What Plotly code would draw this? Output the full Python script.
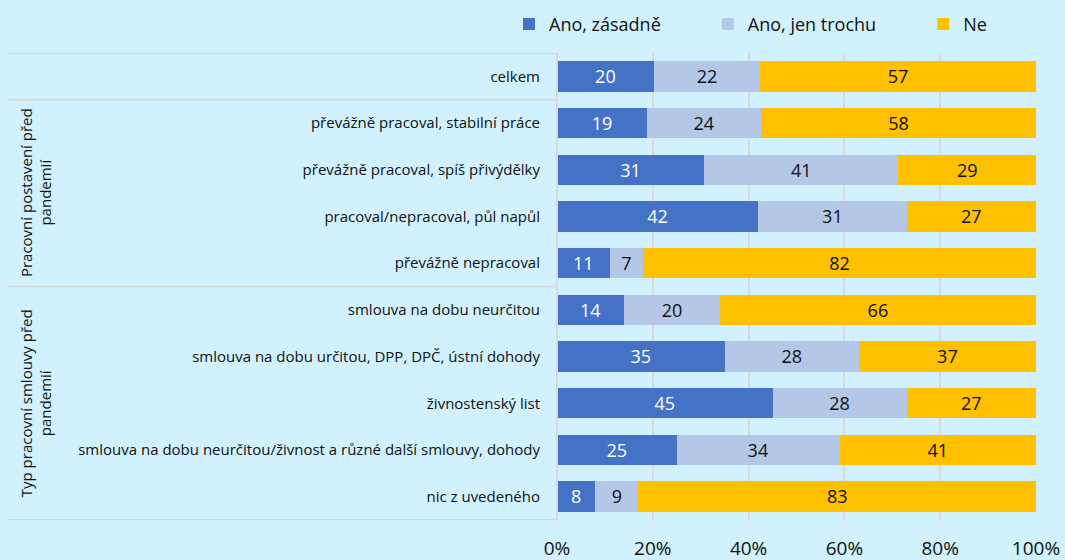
import plotly.graph_objects as go

categories = [
    "celkem",
    "převážně pracoval, stabilní práce",
    "převážně pracoval, spíš přivýdělky",
    "pracoval/nepracoval, půl napůl",
    "převážně nepracoval",
    "smlouva na dobu neurčitou",
    "smlouva na dobu určitou, DPP, DPČ, ústní dohody",
    "živnostenský list",
    "smlouva na dobu neurčitou/živnost a různé další smlouvy, dohody",
    "nic z uvedeného",
]
ano_zasadne = [20, 19, 31, 42, 11, 14, 35, 45, 25, 8]
ano_trochu = [22, 24, 41, 31, 7, 20, 28, 28, 34, 9]
ne = [57, 58, 29, 27, 82, 66, 37, 27, 41, 83]
series_names = ["Ano, zásadně", "Ano, jen trochu", "Ne"]
group_labels = ["Pracovní postavení před<br>pandemií", "Typ pracovní smlouvy před<br>pandemií"]
tick_vals = [0, 20, 40, 60, 80, 100]
tick_text = ["0%", "20%", "40%", "60%", "80%", "100%"]

colors = ["#4472C4", "#B4C7E7", "#FFC000"]
text_colors = ["white", "#111111", "#111111"]
BG = "#D0F1FD"
FONT = "Segoe UI, Open Sans, sans-serif"
GRID = "#D9D9D9"
legend_names = [series_names[0] + "\u00a0" * 9, series_names[1] + "\u00a0" * 9, series_names[2]]

fig = go.Figure()
for name, vals, c, tc in zip(legend_names, [ano_zasadne, ano_trochu, ne], colors, text_colors):
    fig.add_trace(go.Bar(
        y=categories, x=vals, name=name, orientation="h",
        marker=dict(color=c, line=dict(width=0)),
        text=vals, texttemplate="%{text}", textposition="inside",
        insidetextanchor="middle", textangle=0,
        textfont=dict(color=tc, size=20, family=FONT),
        width=0.65,
    ))

L, R = 557, 1036
PW = R - L
def px_to_paper(x):
    return (x - L) / PW

# table lines in label area
for yv in [-0.5, 0.5, 4.5, 9.5]:
    fig.add_shape(type="line", xref="paper", yref="y",
                  x0=px_to_paper(8), x1=0, y0=yv, y1=yv,
                  line=dict(color=GRID, width=2))
fig.add_shape(type="line", xref="paper", yref="y", x0=0, x1=0, y0=-0.5, y1=9.5,
              line=dict(color=GRID, width=2))

# group labels
for lab, ymid in zip(group_labels, [2.5, 7.0]):
    fig.add_annotation(text=lab, xref="paper", yref="y", x=px_to_paper(36), y=ymid,
                       xanchor="center", yanchor="middle",
                       textangle=-90, showarrow=False, align="center",
                       font=dict(size=15, family=FONT, color="#111111"))

fig.update_layout(
    width=1065, height=560,
    barmode="stack", barnorm="percent",
    paper_bgcolor=BG, plot_bgcolor=BG,
    margin=dict(l=L, r=1065 - R, t=53, b=40, autoexpand=False),
    font=dict(family=FONT, color="#111111"),
    legend=dict(orientation="h", x=px_to_paper(509), xanchor="left", y=1.022, yanchor="bottom",
                font=dict(size=18, family=FONT), bgcolor="rgba(0,0,0,0)",
                traceorder="normal"),
    xaxis=dict(range=[0, 100], tickvals=tick_vals, ticktext=tick_text,
               showgrid=True, gridcolor=GRID, gridwidth=2, zeroline=False,
               showline=False, tickfont=dict(size=19, family=FONT),
               ticklabelstandoff=15, fixedrange=True, automargin=False),
    yaxis=dict(categoryorder="array", categoryarray=categories, range=[9.5, -0.5],
               showgrid=False, zeroline=False, showline=False, automargin=False,
               tickfont=dict(size=15, family=FONT), ticklabelstandoff=16),
    showlegend=True,
)

fig.write_html("out.html", config={"displayModeBar": False},
               post_script="document.body.style.margin='0';")
